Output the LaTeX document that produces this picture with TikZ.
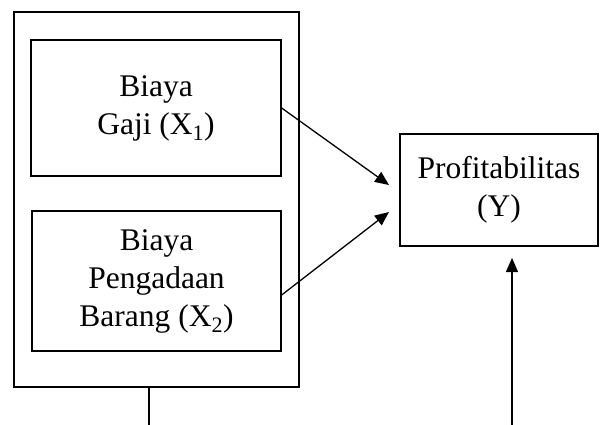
\documentclass[tikz,border=0pt]{standalone}
\usepackage{fontspec}
\setmainfont{Liberation Serif}
\usetikzlibrary{calc,arrows.meta}

\begin{document}
\begin{tikzpicture}[x=1pt,y=-1pt,
  box/.style={draw, line width=1.3pt, inner sep=0pt, align=center, font=\fontsize{31.5}{38}\selectfont},
  arr/.style={line width=1.3pt, -{Triangle[length=14pt,width=12pt]}}]
\useasboundingbox (0,0) rectangle (600,425);
\node[box, minimum width=285, minimum height=375] (outer) at (156.5,199.5) {}; %outer frame
\node[box, minimum width=250, minimum height=136] (gaji) at (156,108) {Biaya\\Gaji (X\textsubscript{1})};
\node[box, minimum width=249, minimum height=140] (barang) at (156.5,281) {Biaya\\Pengadaan\\Barang (X\textsubscript{2})};
\node[box, minimum width=198, minimum height=112] (profit) at (499,190) {Profitabilitas\\(Y)};

\coordinate (tipa) at (389,185);
\coordinate (tipb) at (389,212);
\coordinate (tailx) at (149,425);
\coordinate (taily) at (512,425);
\coordinate (tipy) at (512,258);

\draw[arr] (gaji.east) -- (tipa);
\draw[arr] ($(barang.east)+(0,14)$) -- (tipb);
\draw[line width=1.3pt] (tailx |- outer.south) -- (tailx); %line below frame
\draw[arr] (taily) -- (tipy);
\end{tikzpicture}
\end{document}
